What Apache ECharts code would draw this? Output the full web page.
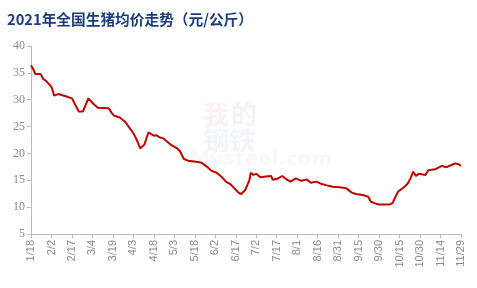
<!DOCTYPE html>
<html>
<head>
<meta charset="utf-8">
<script src="https://cdn.jsdelivr.net/npm/echarts@6/dist/echarts.min.js"></script>
<style>
html,body{margin:0;padding:0;background:#fff;}
#c{width:477px;height:288px;}
</style>
</head>
<body>
<div id="c"></div>
<script>
var titleText = '2021年全国生猪均价走势（元/公斤）';
var startDate = [2021, 1, 18];
var dayCount = 316;
var sampleDates = ['1/18','1/20','1/21','1/25','1/27','1/29','2/2','2/4','2/7','2/13','2/17','2/22','2/25','3/1','3/5','3/8','3/16','3/18','3/20','3/24','3/28','3/31','4/3','4/5','4/8','4/11','4/14','4/18','4/20','4/22','4/25','4/30','5/5','5/7','5/10','5/13','5/19','5/23','5/27','5/30','6/3','6/7','6/10','6/13','6/16','6/19','6/21','6/24','6/27','6/28','6/30','7/2','7/5','7/9','7/13','7/14','7/18','7/21','7/24','7/27','7/31','8/4','8/8','8/11','8/15','8/19','8/22','8/27','9/1','9/6','9/10','9/13','9/18','9/22','9/24','9/27','9/30','10/8','10/10','10/12','10/14','10/16','10/19','10/21','10/23','10/25','10/27','10/29','11/3','11/5','11/10','11/15','11/18','11/22','11/25','11/27','11/29'];
var priceValues = [36.4,35.5,34.8,34.8,33.85,33.5,32.4,30.75,31.05,30.6,30.25,27.8,27.8,30.25,29.15,28.5,28.4,27.6,27.0,26.7,25.9,24.8,23.75,22.8,20.95,21.6,23.9,23.3,23.4,23.0,22.8,21.7,20.95,20.45,18.96,18.65,18.45,18.27,17.5,16.8,16.4,15.55,14.7,14.3,13.5,12.7,12.45,13.2,15.05,16.4,16.0,16.2,15.55,15.7,15.8,15.1,15.35,15.8,15.2,14.75,15.35,14.9,15.15,14.55,14.75,14.3,14.1,13.8,13.7,13.5,12.7,12.45,12.25,11.95,11.0,10.7,10.5,10.5,10.8,11.95,12.9,13.3,13.9,14.4,15.35,16.6,15.8,16.2,16.0,16.85,17.05,17.7,17.4,17.85,18.15,18.0,17.7];
var yMin = 5, yMax = 40, yStep = 5;

var categories = [];
var d0 = new Date(startDate[0], startDate[1]-1, startDate[2]);
for (var i = 0; i < dayCount; i++) {
  var d = new Date(d0.getTime());
  d.setDate(d0.getDate() + i);
  categories.push((d.getMonth()+1) + '/' + d.getDate());
}
var seriesData = sampleDates.map(function(s, i){ return [s, priceValues[i]]; });

var chart = echarts.init(document.getElementById('c'), null, {renderer:'canvas'});
chart.setOption({
  animation: false,
  backgroundColor: '#fff',
  title: {
    text: titleText, left: 2, top: 7,
    textStyle: {fontSize: 14.7, fontWeight: 'bold', color: '#1B3D7D', fontFamily: '"Noto Sans CJK SC", sans-serif'}
  },
  graphic: [
    {type:'text', left: 203, top: 101, style:{text:'我', font:'bold 26px "Noto Sans CJK SC"', fill:'rgba(230,120,120,0.10)'}},
    {type:'text', left: 231, top: 101, style:{text:'的', font:'bold 26px "Noto Sans CJK SC"', fill:'rgba(120,140,190,0.10)'}},
    {type:'text', left: 203, top: 127, style:{text:'钢铁', font:'bold 26px "Noto Sans CJK SC"', fill:'rgba(120,140,190,0.10)'}},
    {type:'text', left: 190, top: 150, style:{text:'Mysteel.com', font:'bold 20px "DejaVu Sans"', fill:'rgba(150,150,150,0.07)'}}
  ],
  grid: {left: 31, right: 16, top: 46, bottom: 54, containLabel: false},
  xAxis: {
    type: 'category', data: categories, boundaryGap: false,
    axisLine: {lineStyle: {color: '#bbbbbb', width: 1}},
    axisTick: {show: true, interval: 14, length: 4, lineStyle: {color: '#bbbbbb'}},
    axisLabel: {interval: 14, rotate: 90, color: '#8a8a8a', fontSize: 11, fontFamily: '"Liberation Sans", Arial, sans-serif', margin: 6},
    splitLine: {show: false}
  },
  yAxis: {
    type: 'value', min: yMin, max: yMax, interval: yStep,
    axisLine: {show: true, lineStyle: {color: '#bbbbbb', width: 1}},
    axisTick: {show: true, length: 4, lineStyle: {color: '#bbbbbb'}},
    axisLabel: {color: '#8a8a8a', fontSize: 12, fontFamily: '"Liberation Serif", "Times New Roman", serif', margin: 6},
    splitLine: {show: false}
  },
  series: [{
    type: 'line', data: seriesData, showSymbol: false, symbol: 'none',
    lineStyle: {color: '#C00000', width: 2},
    itemStyle: {color: '#C00000'}
  }]
});
</script>
</body>
</html>
